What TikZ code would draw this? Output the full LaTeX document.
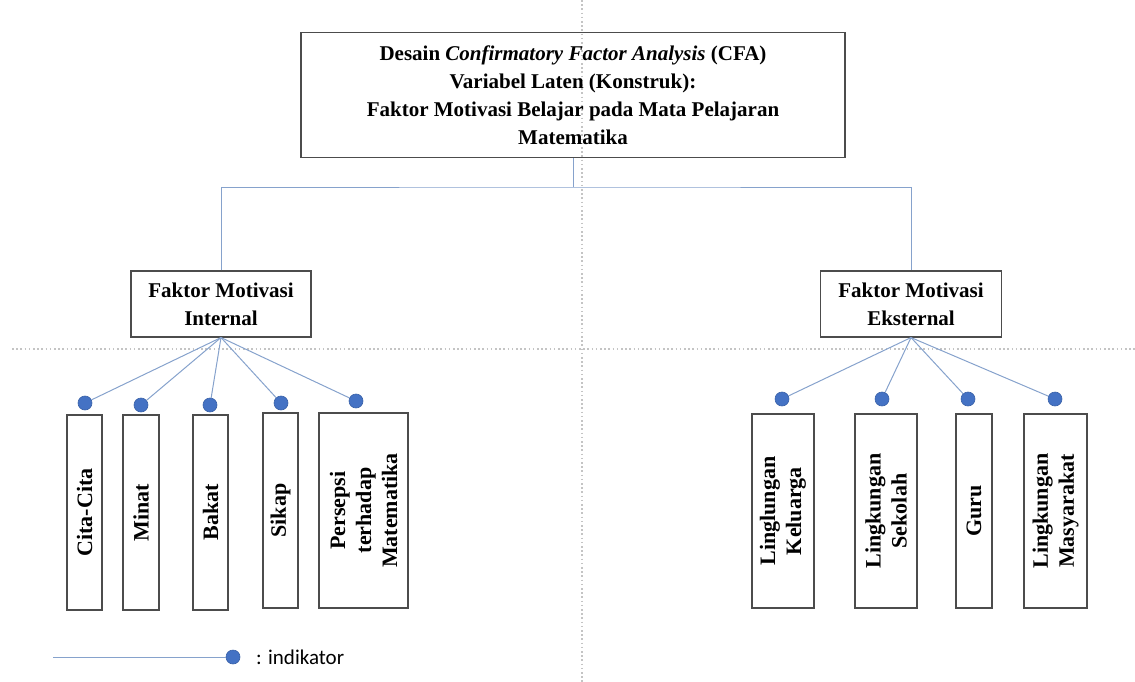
\documentclass[tikz,border=0pt]{standalone}
\usepackage{fontspec}
\setmainfont{Liberation Serif}
\newfontfamily\legendfont{Carlito}
\definecolor{linkblue}{HTML}{86A2CC}
\definecolor{dotblue}{HTML}{4472C4}
\definecolor{dotrim}{HTML}{3A62A8}
\definecolor{guidegray}{HTML}{C4C4C4}
\tikzset{
  box/.style={draw=black!70,line width=1.1pt,inner sep=0pt,align=center,
    font=\fontsize{21}{28}\selectfont\bfseries},
  vbox/.style={box,rotate=90,font=\fontsize{22}{26}\selectfont\bfseries},
  indot/.style={circle,fill=dotblue,draw=dotrim,line width=0.6pt,
    minimum size=14pt,inner sep=0pt},
  link/.style={draw=linkblue,line width=1pt},
  guide/.style={draw=guidegray,line width=1.1pt,dash pattern=on 1.6pt off 2.6pt}
}
\begin{document}
\begin{tikzpicture}[x=1pt,y=-1pt]
      \useasboundingbox (0,0) rectangle (1135,682);

      % guide lines
      \draw[guide] (582,0) -- (582,682);
      \draw[guide] (12,349) -- (1135,349);

      \begin{scope}[every node/.style={box}]
        \node[minimum width=544pt,minimum height=125pt] (cfa) at (573,95)
          {Desain \textit{Confirmatory Factor Analysis} (CFA)\\
           Variabel Laten (Konstruk):\\
           Faktor Motivasi Belajar pada Mata Pelajaran\\
           Matematika};
        \node[minimum width=180pt,minimum height=66pt] (int) at (221,304)
          {Faktor Motivasi\\Internal};
        \node[minimum width=181pt,minimum height=66pt] (eks) at (911,304)
          {Faktor Motivasi\\Eksternal};
      \end{scope}

      \coordinate (hub) at (573,187);
      \draw[link] (cfa.south) -- (hub);
      \draw[link] (int.north) |- (hub) -| (eks.north);

      % indikator internal
      \begin{scope}[every node/.style={vbox,minimum width=195pt}]
        \node[minimum height=35pt] (b1) at (84.5,512.5) {Cita-Cita};
        \node[minimum height=36pt] (b2) at (141,512.5)  {Minat};
        \node[minimum height=35pt] (b3) at (210.5,512.5) {Bakat};
        \node[minimum height=35pt] (b4) at (280.5,510.5) {Sikap};
        \node[minimum height=89pt] (b5) at (363.5,510.5)
          {Persepsi\\terhadap\\Matematika};
      \end{scope}

      % indikator eksternal
      \begin{scope}[every node/.style={vbox,minimum width=194pt}]
        \node[minimum height=62pt] (c1) at (783,511)    {Linglungan\\Keluarga};
        \node[minimum height=62pt] (c2) at (886,511)    {Lingkungan\\Sekolah};
        \node[minimum height=36pt] (c3) at (974,511)    {Guru};
        \node[minimum height=63pt] (c4) at (1055.5,511) {Lingkungan\\Masyarakat};
      \end{scope}

      \begin{scope}[every node/.style={indot}]
        \node (a1) at (85,403)  {};
        \node (a2) at (141,405) {};
        \node (a3) at (210,405) {};
        \node (a4) at (281,403) {};
        \node (a5) at (356,401) {};
        \node (e1) at (782,399) {};
        \node (e2) at (882,399) {};
        \node (e3) at (968,399) {};
        \node (e4) at (1055,399) {};
        \node (ld) at (233,657) {};
      \end{scope}

      \begin{scope}[every edge/.style={link}]
        \path (int.south) edge (a1) edge (a2) edge (a3) edge (a4) edge (a5);
        \path (eks.south) edge (e1) edge (e2) edge (e3) edge (e4);
      \end{scope}

      % legenda
      \coordinate (lg) at (53,657);
      \draw[link] (lg) -- (ld);
      \node[anchor=west,inner sep=0pt,font=\legendfont\fontsize{21}{25}\selectfont]
        (lt) at (256,657) {: indikator};

    \end{tikzpicture}
\end{document}
